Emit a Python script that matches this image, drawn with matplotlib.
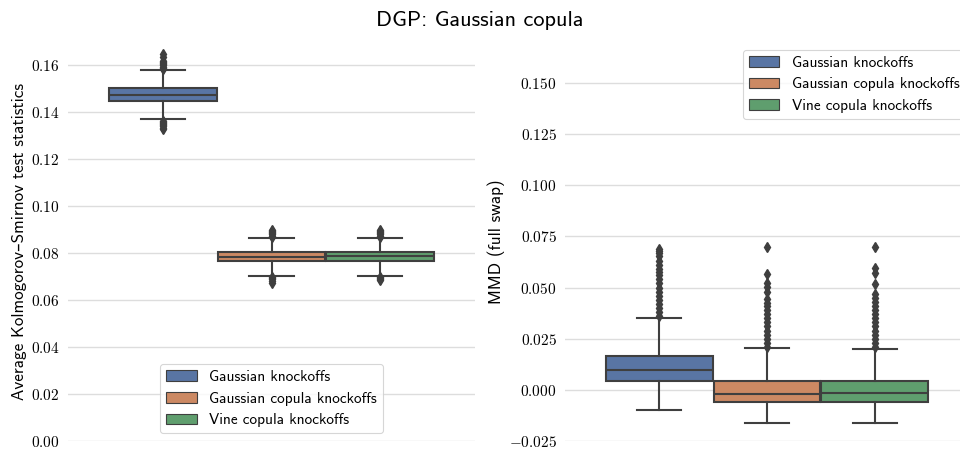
import numpy as np
import matplotlib
matplotlib.use('Agg')
import matplotlib.pyplot as plt
from matplotlib.patches import Patch
from matplotlib.ticker import FuncFormatter

plt.rcParams['mathtext.fontset'] = 'cm'
plt.rcParams['axes.unicode_minus'] = True
SANS = ['cmss10', 'DejaVu Sans']

# methods (hue levels) and box colours
methods = ['Gaussian knockoffs', 'Gaussian copula knockoffs', 'Vine copula knockoffs']
colors = ['#5975a4', '#cc8963', '#5f9e6e']

# left panel: average KS test statistics (q1, median, q3, whisker low, whisker high)
ks_q1 = [0.1448, 0.0767, 0.0767]
ks_med = [0.1476, 0.0786, 0.0787]
ks_q3 = [0.1503, 0.0804, 0.0804]
ks_lo = [0.1370, 0.0705, 0.0705]
ks_hi = [0.1580, 0.0863, 0.0865]
ks_fliers = [
    [0.1585, 0.159, 0.1595, 0.160, 0.1605, 0.161, 0.1615, 0.162, 0.1635, 0.165,
     0.1365, 0.136, 0.1355, 0.135, 0.1345, 0.134, 0.1335, 0.1328],
    [0.0870, 0.0875, 0.0880, 0.0885, 0.0890, 0.0895, 0.0900,
     0.0700, 0.0695, 0.0690, 0.0680, 0.0675],
    [0.0870, 0.0875, 0.0880, 0.0885, 0.0890, 0.0895, 0.0900,
     0.0700, 0.0695, 0.0690, 0.0685],
]

# right panel: MMD (full swap)
mmd_q1 = [0.0045, -0.0061, -0.0061]
mmd_med = [0.0098, -0.0019, -0.0015]
mmd_q3 = [0.0164, 0.0045, 0.0045]
mmd_lo = [-0.0100, -0.0164, -0.0160]
mmd_hi = [0.0350, 0.0206, 0.0202]
mmd_fliers = [
    [0.036, 0.038, 0.040, 0.042, 0.044, 0.046, 0.048, 0.050, 0.052, 0.054, 0.056,
     0.0575, 0.059, 0.061, 0.063, 0.0655, 0.067, 0.068, 0.069],
    [0.021, 0.023, 0.025, 0.027, 0.029, 0.031, 0.033, 0.035, 0.037, 0.039, 0.041,
     0.0425, 0.0445, 0.048, 0.0505, 0.052, 0.0565, 0.070],
    [0.021, 0.023, 0.025, 0.027, 0.029, 0.031, 0.033, 0.035, 0.037, 0.039, 0.041,
     0.043, 0.045, 0.047, 0.0515, 0.0572, 0.0595, 0.070],
]

line_c = '#3f3f3f'
box_w = 0.8 / 3
offsets = [-box_w, 0.0, box_w]


def draw_boxes(ax, q1, med, q3, lo, hi, fliers):
    stats = []
    for i in range(3):
        stats.append(dict(q1=q1[i], med=med[i], q3=q3[i], whislo=lo[i],
                          whishi=hi[i], fliers=fliers[i]))
    bp = ax.bxp(stats, positions=offsets, widths=box_w * 0.99, capwidths=0.11,
                patch_artist=True, showfliers=True,
                boxprops=dict(edgecolor=line_c, linewidth=1.5),
                medianprops=dict(color=line_c, linewidth=1.5),
                whiskerprops=dict(color=line_c, linewidth=1.5),
                capprops=dict(color=line_c, linewidth=1.5),
                flierprops=dict(marker='d', markerfacecolor=line_c,
                                markeredgecolor=line_c, markersize=5))
    for patch, c in zip(bp['boxes'], colors):
        patch.set_facecolor(c)
    ax.set_xlim(-0.5, 0.5)
    ax.set_xticks([])
    ax.grid(axis='y', color='#dddddd', linewidth=1)
    ax.set_axisbelow(True)
    for s in ax.spines.values():
        s.set_visible(False)
    ax.tick_params(axis='y', length=0, labelsize=11, pad=6)


def legend(ax, loc, anchor):
    handles = [Patch(facecolor=c, edgecolor=line_c, linewidth=0.8) for c in colors]
    leg = ax.legend(handles, methods, loc=loc, bbox_to_anchor=anchor,
                    prop={'family': SANS, 'size': 11},
                    frameon=True, fancybox=True, edgecolor='#cccccc')
    leg.get_frame().set_linewidth(0.8)


fig = plt.figure(figsize=(9.6, 4.49), dpi=100)
ax1 = fig.add_axes([68 / 960, 8 / 449, 407 / 960, 399 / 449])
ax2 = fig.add_axes([565 / 960, 8 / 449, 404 / 960, 399 / 449])

draw_boxes(ax1, ks_q1, ks_med, ks_q3, ks_lo, ks_hi, ks_fliers)
ax1.set_ylim(0, 0.17)
ax1.set_yticks(np.arange(0, 0.161, 0.02))
ax1.yaxis.set_major_formatter(FuncFormatter(lambda v, p: f'${v:.2f}$'))
ax1.set_ylabel('Average Kolmogorov–Smirnov test statistics', family=SANS, fontsize=12.3,
               labelpad=3)
legend(ax1, 'lower center', (0.5, 0.0))

draw_boxes(ax2, mmd_q1, mmd_med, mmd_q3, mmd_lo, mmd_hi, mmd_fliers)
ax2.set_ylim(-0.025, 0.17)
ax2.set_yticks(np.arange(-0.025, 0.151, 0.025))
ax2.yaxis.set_major_formatter(FuncFormatter(lambda v, p: f'${v:.3f}$'))
ax2.set_ylabel('MMD (full swap)', family=SANS, fontsize=12.3, labelpad=3)
legend(ax2, 'upper right', (1.01, 1.0))

fig.suptitle('DGP: Gaussian copula', family=SANS, fontsize=16, y=0.975)

fig.savefig('out.png', dpi=100)
